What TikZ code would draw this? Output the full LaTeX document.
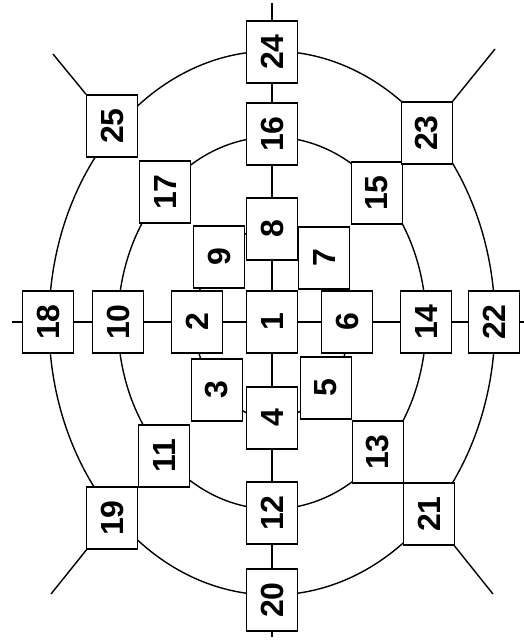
\documentclass[tikz,border=0pt]{standalone}
\usepackage{fontspec}
\setmainfont{Liberation Sans}
\usepackage{tikz}
\usetikzlibrary{positioning}
\tikzset{>=latex}
\tikzset{cell/.style={draw, fill=white, rotate=90, inner sep=0pt,
    minimum width=62pt, minimum height=51pt,
    font=\fontsize{32}{32}\selectfont\bfseries}}
\tikzset{ring/.style={line width=1.4pt}}

\begin{document}
\begin{tikzpicture}[x=1pt, y=-1pt, line width=1.4pt]
  \useasboundingbox (0,0) rectangle (524,641);
  % rings behind the boxes
  \coordinate (mid) at (272,323);
  \draw[ring] (mid) ellipse [x radius=223pt, y radius=272pt];
  \draw[ring] (mid) ellipse [x radius=154pt, y radius=186pt];
  \draw[ring] (mid) ellipse [x radius=77pt, y radius=95pt];
  % loose ends
  \coordinate (top) at (272,3);
  \coordinate (bot) at (272,637);
  \coordinate (lft) at (12,322);
  \coordinate (rgt) at (524,322);
  \coordinate (e25) at (53,54);
  \coordinate (e23) at (495,49);
  \coordinate (e19) at (51,594);
  \coordinate (e21) at (493,594);
  % boxes
  \foreach \n/\x/\y in {1/272/322, 2/197/322, 3/217/390, 4/272/418,
      5/326/388, 6/347/322, 7/324/258, 8/272/229, 9/219/257,
      10/118/322, 11/164/456, 12/272/513, 13/378/452, 14/426/322,
      15/377/193, 16/272/134, 17/165/192, 18/48/322, 19/112/518,
      20/272/600, 21/429/514, 22/494/322, 23/427/133, 24/272/52,
      25/112/126}
    \node[cell] (n\n) at (\x,\y) {\n};
  % spokes
  \foreach \a/\b in {top/n24, n24/n16, n16/n8, n8/n1, n1/n4, n4/n12,
      n12/n20, n20/bot, lft/n18, n18/n10, n10/n2, n2/n1, n1/n6,
      n6/n14, n14/n22, n22/rgt, n25/e25, n23/e23, n19/e19, n21/e21}
    \draw (\a) -- (\b);
\end{tikzpicture}
\end{document}
